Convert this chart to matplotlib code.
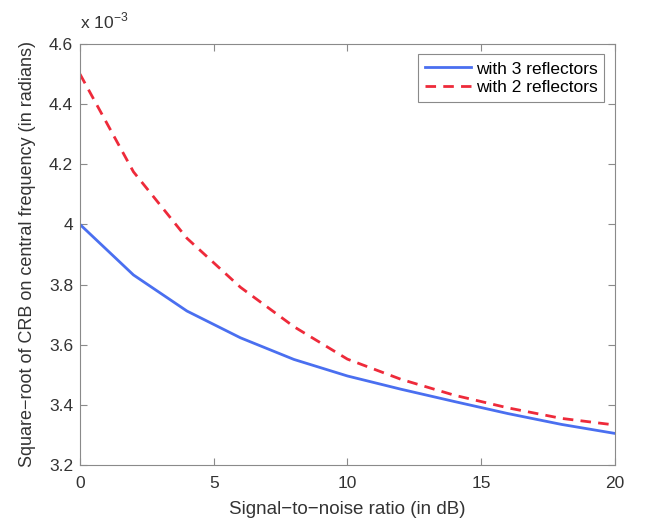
import matplotlib
matplotlib.use("Agg")
import matplotlib.pyplot as plt

snr = [0, 2, 4, 6, 8, 10, 12, 14, 16, 18, 20]
crb_3refl = [4.000, 3.832, 3.712, 3.623, 3.551, 3.496, 3.452, 3.411, 3.371, 3.335, 3.305]
crb_2refl = [4.500, 4.175, 3.954, 3.791, 3.660, 3.552, 3.485, 3.432, 3.390, 3.355, 3.333]

plt.rcParams['font.family'] = ['Liberation Sans', 'DejaVu Sans']
grey = '#8a8a8a'
txt = '#333333'

fig = plt.figure(figsize=(6.5, 5.25), dpi=100)
ax = fig.add_axes([0.123, 0.1143, 0.823, 0.8019])

ax.plot(snr, crb_3refl, color='#4a6ff0', lw=2, label='with 3 reflectors')
ax.plot(snr, crb_2refl, color='#ee2a3a', lw=2, ls=(0, (3.8, 2.6)), label='with 2 reflectors')

ax.set_xlim(0, 20)
ax.set_ylim(3.2, 4.6)
ax.set_xticks([0, 5, 10, 15, 20])
ax.set_yticks([3.2, 3.4, 3.6, 3.8, 4.0, 4.2, 4.4, 4.6])
ax.set_yticklabels(['3.2', '3.4', '3.6', '3.8', '4', '4.2', '4.4', '4.6'])

for s in ax.spines.values():
    s.set_color(grey)
    s.set_linewidth(0.8)
ax.tick_params(direction='in', top=True, right=True, colors=grey, labelcolor=txt,
               labelsize=12.5, length=5)
ax.tick_params(axis='x', pad=8)
ax.tick_params(axis='y', pad=5)

ax.set_xlabel('Signal\u2212to\u2212noise ratio (in dB)', fontsize=13.5, color=txt, labelpad=7)
ax.set_ylabel('Square\u2212root of CRB on central frequency (in radians)', fontsize=13,
              color=txt, labelpad=9)
ax.text(0, 1.03, 'x 10$^{\\mathregular{-3}}$', transform=ax.transAxes, fontsize=12.5,
        color=txt, va='bottom', ha='left')

leg = ax.legend(loc='upper right', fontsize=12.5, fancybox=False, framealpha=1,
                edgecolor=grey, handlelength=2.6, borderpad=0.4, labelspacing=0.2,
                handletextpad=0.3, borderaxespad=0.6)
leg.get_frame().set_linewidth(0.8)

fig.savefig('out.png', dpi=100)
